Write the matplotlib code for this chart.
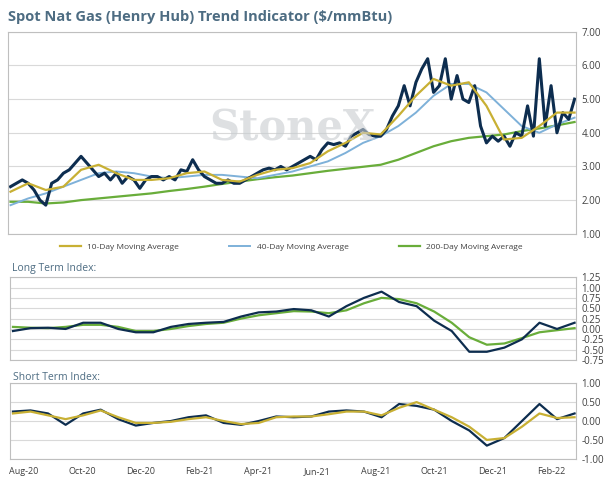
# Spot Nat Gas (Henry Hub) Trend Indicator

# Importing the libraries
import matplotlib.pyplot as plt
import numpy as np

plt.rcParams['font.family'] = ['Open Sans', 'DejaVu Sans']

# Price, roughly every 6 days (months since Aug-20)
price = [2.4, 2.5, 2.6, 2.5, 2.3, 2.0, 1.85, 2.5, 2.6, 2.8, 2.9, 3.1, 3.3, 3.1, 2.9, 2.7,
         2.8, 2.6, 2.8, 2.5, 2.7, 2.6, 2.35, 2.6, 2.7, 2.7, 2.6, 2.7, 2.6, 2.9, 2.85, 3.2,
         2.9, 2.7, 2.6, 2.5, 2.5, 2.6, 2.5, 2.5, 2.6, 2.7, 2.8, 2.9, 2.95, 2.9, 3.0, 2.9,
         3.0, 3.1, 3.2, 3.3, 3.2, 3.5, 3.7, 3.65, 3.7, 3.6, 3.9, 4.0, 4.1, 3.95, 3.9, 3.9,
         4.1, 4.5, 4.8, 5.4, 4.8, 5.5, 5.9, 6.2, 5.2, 5.4, 6.2, 5.0, 5.7, 5.0, 4.9, 5.4,
         4.2, 3.7, 3.9, 3.75, 3.9, 3.6, 4.0, 3.9, 4.8, 3.9, 6.2, 4.2, 5.4, 4.0, 4.6, 4.4, 5.0]
x_price = np.linspace(-0.36, 18.8, len(price))

# Moving averages and indices, roughly every 18 days
ma10 = [2.25, 2.5, 2.3, 2.4, 2.9, 3.05, 2.8, 2.6, 2.6, 2.65, 2.8, 2.85, 2.6, 2.55, 2.75, 2.9, 2.95,
        3.1, 3.45, 3.7, 4.0, 3.95, 4.5, 5.1, 5.6, 5.4, 5.5, 4.8, 3.8, 3.85, 4.2, 4.6, 4.6]
ma40 = [1.85, 2.05, 2.2, 2.4, 2.6, 2.8, 2.85, 2.8, 2.7, 2.65, 2.7, 2.75, 2.75, 2.7, 2.65, 2.75, 2.85,
        3.0, 3.15, 3.4, 3.7, 3.9, 4.2, 4.6, 5.1, 5.45, 5.45, 5.2, 4.7, 4.2, 4.0, 4.25, 4.45]
ma200 = [1.95, 1.95, 1.9, 1.93, 2.0, 2.05, 2.1, 2.15, 2.2, 2.27, 2.33, 2.4, 2.48, 2.55, 2.62, 2.68, 2.73,
         2.8, 2.87, 2.93, 2.99, 3.05, 3.2, 3.4, 3.6, 3.75, 3.85, 3.9, 3.95, 4.05, 4.13, 4.22, 4.32]
long_idx = [-0.05, 0.02, 0.03, 0.0, 0.15, 0.15, 0.0, -0.08, -0.08, 0.05, 0.12, 0.15, 0.17, 0.3, 0.4, 0.42, 0.48,
            0.45, 0.3, 0.55, 0.75, 0.9, 0.65, 0.55, 0.2, -0.05, -0.55, -0.55, -0.45, -0.25, 0.15, 0.0, 0.15]
long_sig = [0.05, 0.03, 0.02, 0.05, 0.1, 0.1, 0.05, -0.05, -0.05, 0.0, 0.07, 0.12, 0.15, 0.25, 0.33, 0.38, 0.43,
            0.42, 0.38, 0.45, 0.62, 0.75, 0.72, 0.62, 0.42, 0.15, -0.2, -0.38, -0.35, -0.22, -0.08, -0.03, 0.02]
short_idx = [0.25, 0.28, 0.2, -0.1, 0.2, 0.3, 0.05, -0.12, -0.05, 0.0, 0.1, 0.15, -0.05, -0.1, 0.0, 0.12, 0.1,
             0.12, 0.25, 0.28, 0.25, 0.1, 0.45, 0.4, 0.3, 0.0, -0.25, -0.65, -0.45, 0.0, 0.45, 0.05, 0.2]
short_sig = [0.2, 0.25, 0.15, 0.05, 0.15, 0.28, 0.1, -0.05, -0.05, -0.02, 0.05, 0.1, 0.0, -0.08, -0.05, 0.1, 0.12,
             0.12, 0.18, 0.25, 0.25, 0.15, 0.35, 0.5, 0.3, 0.1, -0.15, -0.5, -0.45, -0.15, 0.2, 0.08, 0.1]
x_avg = np.linspace(-0.36, 18.8, len(ma10))

navy, gold, blue, green = '#0d2d4f', '#c8b034', '#7eb1d9', '#69ad3a'
title_color = '#4d6c82'
xlim = (-0.45, 18.85)

fig = plt.figure(figsize=(6.07, 4.82), dpi=100)
ax1 = fig.add_axes([0.013, 0.515, 0.936, 0.419])
ax2 = fig.add_axes([0.017, 0.253, 0.932, 0.172])
ax3 = fig.add_axes([0.017, 0.048, 0.932, 0.157])


def style(ax, ylim, ticks):
    ax.set_xlim(*xlim)
    ax.set_ylim(*ylim)
    ax.set_yticks(ticks)
    ax.set_yticklabels(['%.2f' % t for t in ticks], fontsize=7, color='#404040')
    ax.yaxis.tick_right()
    ax.tick_params(length=0, pad=4)
    ax.grid(axis='y', color='#d9d9d9', lw=0.8)
    ax.set_axisbelow(True)
    for s in ax.spines.values():
        s.set_color('#bfbfbf')
        s.set_linewidth(0.8)
    ax.set_xticks([])


# Main chart
ax1.plot(x_avg, ma200, color=green, lw=1.6, label='200-Day Moving Average')
ax1.plot(x_avg, ma40, color=blue, lw=1.4, label='40-Day Moving Average')
ax1.plot(x_price, price, color=navy, lw=2.2)
ax1.plot(x_avg, ma10, color=gold, lw=1.6, label='10-Day Moving Average')
style(ax1, (1, 7), [1, 2, 3, 4, 5, 6, 7])
ax1.text(0.5, 0.52, 'StoneX', transform=ax1.transAxes, ha='center', va='center',
         fontsize=30, family='DejaVu Serif', fontweight='bold', color='#c8ccd0', alpha=0.6)
handles, labels = ax1.get_legend_handles_labels()
fig.legend(handles[::-1], labels[::-1], loc='center', bbox_to_anchor=(0.48, 0.488), ncol=3,
           frameon=False, fontsize=6, columnspacing=6, handlelength=2.5, labelcolor='#404040')
fig.text(0.013, 0.965, 'Spot Nat Gas (Henry Hub) Trend Indicator ($/mmBtu)', fontsize=10.5,
         fontweight='bold', color=title_color, va='center')

# Long term index
ax2.plot(x_avg, long_sig, color=green, lw=1.6)
ax2.plot(x_avg, long_idx, color=navy, lw=1.6)
style(ax2, (-0.75, 1.25), [-0.75, -0.5, -0.25, 0, 0.25, 0.5, 0.75, 1, 1.25])
fig.text(0.02, 0.442, 'Long Term Index:', fontsize=7.5, color=title_color, va='center')

# Short term index
ax3.plot(x_avg, short_idx, color=navy, lw=1.6)
ax3.plot(x_avg, short_sig, color=gold, lw=1.6)
style(ax3, (-1, 1), [-1, -0.5, 0, 0.5, 1])
fig.text(0.022, 0.216, 'Short Term Index:', fontsize=7.5, color=title_color, va='center')
ax3.set_xticks(range(0, 19, 2))
ax3.set_xticklabels(['Aug-20', 'Oct-20', 'Dec-20', 'Feb-21', 'Apr-21', 'Jun-21',
                     'Aug-21', 'Oct-21', 'Dec-21', 'Feb-22'], fontsize=6.5, color='#404040')
ax3.tick_params(axis='x', length=0, pad=6)

plt.savefig('out.png', dpi=100)
